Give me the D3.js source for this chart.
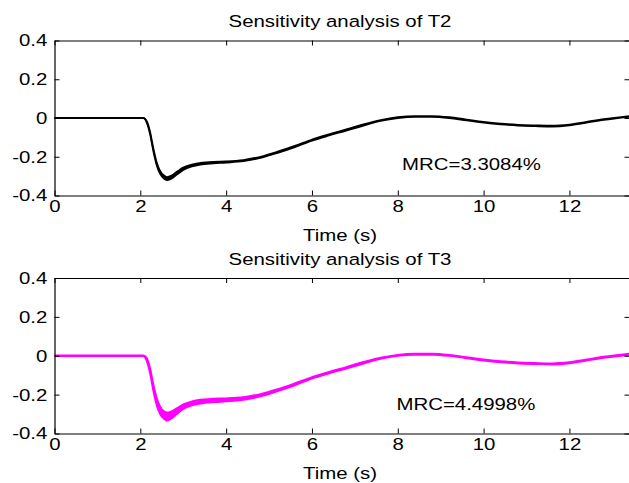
<!doctype html>
<html>
<head>
<meta charset="utf-8">
<script src="https://cdnjs.cloudflare.com/ajax/libs/d3/7.8.5/d3.min.js"></script>
<style>
  body { margin: 0; background: #fff; }
  svg { display: block; }
  text { font-family: Arial, "Liberation Sans", sans-serif; fill: #000; }
</style>
</head>
<body>
<svg id="chart" width="629" height="483"></svg>
<script>
// sample times (s)
var time = [0, 1, 2.0, 2.07, 2.15, 2.23, 2.3, 2.38, 2.46, 2.55, 2.62, 2.7, 2.85, 3.0, 3.2, 3.4, 3.7, 4.0, 4.4, 4.8,
            5.2, 5.6, 6.0, 6.4, 6.8, 7.2, 7.6, 8.0, 8.4, 8.8, 9.2, 9.6, 10.0, 10.4, 10.8, 11.2, 11.6, 12.0, 12.4, 12.8, 13.4];

// envelope of the perturbed responses, T2
var t2Upper = [0.001, 0.001, 0.001, 0.001, -0.016, -0.074, -0.153, -0.228, -0.273, -0.297, -0.305, -0.3, -0.278, -0.256, -0.24, -0.232, -0.226, -0.224, -0.217, -0.2,
               -0.174, -0.144, -0.111, -0.084, -0.059, -0.033, -0.011, 0.004, 0.01, 0.01, 0.004, -0.008, -0.02, -0.029, -0.035, -0.038, -0.04, -0.034, -0.02, -0.006, 0.01];
var t2Lower = [-0.001, -0.001, -0.001, -0.001, -0.024, -0.086, -0.167, -0.242, -0.287, -0.313, -0.321, -0.316, -0.292, -0.268, -0.25, -0.24, -0.234, -0.23, -0.223, -0.206,
               -0.18, -0.15, -0.117, -0.09, -0.065, -0.039, -0.015, 0, 0.006, 0.006, 0, -0.012, -0.024, -0.033, -0.039, -0.042, -0.044, -0.038, -0.024, -0.01, 0.006];

// envelope of the perturbed responses, T3
var t3Upper = [0.002, 0.002, 0.002, 0.002, -0.012, -0.066, -0.143, -0.215, -0.26, -0.285, -0.292, -0.289, -0.27, -0.25, -0.235, -0.226, -0.221, -0.219, -0.213, -0.197,
               -0.172, -0.142, -0.11, -0.083, -0.058, -0.032, -0.01, 0.005, 0.011, 0.011, 0.005, -0.007, -0.019, -0.028, -0.034, -0.037, -0.039, -0.033, -0.019, -0.005, 0.011];
var t3Lower = [-0.002, -0.002, -0.002, -0.002, -0.028, -0.094, -0.177, -0.255, -0.3, -0.325, -0.334, -0.327, -0.3, -0.274, -0.255, -0.246, -0.239, -0.235, -0.227, -0.209,
               -0.182, -0.152, -0.118, -0.091, -0.066, -0.04, -0.016, -0.001, 0.005, 0.005, -0.001, -0.013, -0.025, -0.034, -0.04, -0.043, -0.045, -0.039, -0.025, -0.011, 0.005];

var xTicks = [0, 2, 4, 6, 8, 10, 12];
var yTicks = [-0.4, -0.2, 0, 0.2, 0.4];
var yTickLabels = ["-0.4", "-0.2", "0", "0.2", "0.4"];

var panels = [
  { title: "Sensitivity analysis of T2", note: "MRC=3.3084%", noteAt: [8.1, -0.27], upper: t2Upper, lower: t2Lower, color: "#000000", top: 40.5, bottom: 195.5 },
  { title: "Sensitivity analysis of T3", note: "MRC=4.4998%", noteAt: [7.97, -0.28], upper: t3Upper, lower: t3Lower, color: "#ff00ff", top: 278, bottom: 433.5 }
];

var left = 54.5, right = 629.5;
var fontSize = 17, stretch = 1.2;   // text in the source is a bit wide
var svg = d3.select("#chart");

panels.forEach(drawPanel);

function drawPanel(p) {
  var x = d3.scaleLinear().domain([0, 13.4]).range([left, right]);
  var y = d3.scaleLinear().domain([-0.4, 0.4]).range([p.bottom, p.top]);
  var g = svg.append("g");

  var pts = time.map(function(t, i) { return { t: t, hi: p.upper[i], lo: p.lower[i] }; });

  // band between the runs
  g.append("path")
    .datum(pts)
    .attr("fill", p.color)
    .attr("d", d3.area().curve(d3.curveMonotoneX)
      .x(d => x(d.t)).y0(d => y(d.lo)).y1(d => y(d.hi)));

  ["hi", "lo"].forEach(function(k) {
    g.append("path")
      .datum(pts)
      .attr("fill", "none")
      .attr("stroke", p.color)
      .attr("stroke-width", 1.8)
      .attr("d", d3.line().curve(d3.curveMonotoneX).x(d => x(d.t)).y(d => y(d[k])));
  });

  // axes, ticks pointing inward
  var fmt = function(d) { return yTickLabels[yTicks.indexOf(d)]; };
  var ax = [
    { a: d3.axisBottom(x).tickValues(xTicks).tickFormat(d3.format("d")), tr: "translate(0," + p.bottom + ")" },
    { a: d3.axisTop(x).tickValues(xTicks).tickFormat(""), tr: "translate(0," + p.top + ")" },
    { a: d3.axisLeft(y).tickValues(yTicks).tickFormat(fmt), tr: "translate(" + left + ",0)" },
    { a: d3.axisRight(y).tickValues(yTicks).tickFormat(""), tr: "translate(" + right + ",0)" }
  ];
  ax.forEach(function(o, i) {
    var sel = g.append("g")
      .attr("transform", o.tr)
      .call(o.a.tickSizeInner(-5).tickSizeOuter(0).tickPadding(i == 2 ? 6 : 4));
    sel.select(".domain").attr("stroke", "#000").attr("stroke-width", 1.2);
    sel.selectAll(".tick line").attr("stroke", "#000");
    sel.selectAll(".tick text")
      .attr("font-size", fontSize)
      .attr("font-family", "Arial, 'Liberation Sans', sans-serif")
      .attr("fill", "#000")
      .attr("transform", "scale(" + stretch + ",1)");
  });

  var cx = (left + right) / 2 - 2;
  label(g, p.title, cx, p.top - 13.5, "middle");
  label(g, "Time (s)", cx, p.bottom + 45, "middle");
  label(g, p.note, x(p.noteAt[0]), y(p.noteAt[1]), "start");
}

function label(g, str, px, py, anchor) {
  g.append("text")
    .attr("transform", "translate(" + px + "," + py + ") scale(" + stretch + ",1)")
    .attr("text-anchor", anchor)
    .attr("font-size", fontSize)
    .text(str);
}
</script>
</body>
</html>
